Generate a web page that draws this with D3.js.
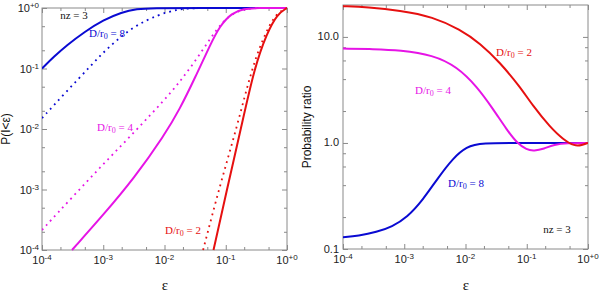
<!DOCTYPE html>
<html>
<head>
<meta charset="utf-8">
<script src="https://cdn.jsdelivr.net/npm/d3@7"></script>
<style>
  body { margin: 0; background: #fff; }
</style>
</head>
<body>
<div id="graph"></div>
<script>
// all curves as [log10(eps), log10(value)]

// left panel : P(I<eps), solid and dotted for each D/r0
const blueSolid = [[-4,-1],[-3.8,-0.8],[-3.6,-0.62],[-3.3,-0.39],[-3.0,-0.2],[-2.7,-0.07],[-2.45,-0.015],[-2.2,0],[-1.5,0],[0,0]];
const blueDotted = [[-4,-1.82],[-3.6,-1.38],[-3.2,-0.95],[-2.9,-0.63],[-2.5,-0.3],[-2.1,-0.11],[-1.8,-0.025],[-1.55,0],[-1,0],[0,0]];
const magentaSolid = [[-3.51,-4],[-3.0,-3.42],[-2.5,-2.82],[-2.0,-2.1],[-1.75,-1.67],[-1.5,-1.15],[-1.25,-0.6],[-1.1,-0.3],[-0.9,-0.08],[-0.7,-0.01],[-0.5,0],[0,0]];
const magentaDotted = [[-4,-3.67],[-3.5,-3.12],[-3,-2.58],[-2.5,-2.06],[-2,-1.52],[-1.75,-1.22],[-1.5,-0.88],[-1.25,-0.5],[-1.05,-0.22],[-0.85,-0.07],[-0.65,-0.01],[-0.45,0],[0,0]];
const redSolid = [[-1.2,-4],[-0.98,-3.0],[-0.75,-1.98],[-0.53,-0.98],[-0.33,-0.42],[-0.16,-0.1],[0,0]];
const redDotted = [[-1.37,-4],[-1.1,-2.95],[-0.82,-1.98],[-0.56,-0.94],[-0.34,-0.38],[-0.17,-0.08],[0,0]];

// right panel : probability ratio
const blueRatio = [[-4,-0.89],[-3.75,-0.875],[-3.45,-0.84],[-3.2,-0.79],[-2.95,-0.7],[-2.7,-0.54],[-2.45,-0.33],[-2.2,-0.14],[-1.98,-0.035],[-1.76,0],[-1,0],[0,0]];
const magentaRatio = [[-4,0.89],[-3.5,0.885],[-3.07,0.875],[-2.53,0.83],[-2.14,0.72],[-1.81,0.53],[-1.55,0.32],[-1.32,0.12],[-1.16,0],[-1.0,-0.065],[-0.88,-0.075],[-0.72,-0.055],[-0.55,-0.015],[-0.35,0],[0,0]];
const redRatio = [[-4,1.29],[-3.6,1.28],[-3.07,1.25],[-2.53,1.19],[-2.09,1.07],[-1.76,0.94],[-1.44,0.76],[-1.11,0.53],[-0.9,0.35],[-0.62,0.15],[-0.4,0.03],[-0.22,-0.03],[-0.1,-0.02],[0,0]];

// ticks
const xTickExp = [-4,-3,-2,-1,0];
const xTickSup = ["-4","-3","-2","-1","+0"];
const leftTickExp = [-4,-3,-2,-1,0];
const leftTickSup = ["-4","-3","-2","-1","+0"];
const rightTicks = [0.1,1.0,10.0];
const rightTickLabels = ["0.1","1.0","10.0"];

const blue = "#0a0ad2", magenta = "#e614e6", red = "#e61010", grey = "#8a8a8a";

let svg = d3.select("#graph")
  .append("svg")
  .attr("width", 600)
  .attr("height", 293)
  .style("font-family", "'Liberation Sans', Arial, sans-serif");

function minorTicks(lo, hi, mult) {
  let out = [];
  for (let e = Math.floor(Math.log10(lo)); e <= Math.ceil(Math.log10(hi)); e++) {
    mult.forEach(k => {
      let v = k * Math.pow(10, e);
      if (v > lo * 1.0001 && v < hi * 0.9999) out.push(v);
    });
  }
  return out;
}

function drawPanel(id, box, yDomain, yMinorMult) {
  let g = svg.append("g");
  let x = d3.scaleLog().domain([1e-4, 1]).range([box.x0, box.x1]);
  let y = d3.scaleLog().domain(yDomain).range([box.y1, box.y0]);

  g.append("clipPath").attr("id", "clip" + id)
    .append("rect")
    .attr("x", box.x0).attr("y", box.y0 - 1)
    .attr("width", box.x1 - box.x0).attr("height", box.y1 - box.y0 + 2);

  // ticks on all four sides, pointing inward
  let xMaj = xTickExp.map(e => Math.pow(10, e));
  let xMin = minorTicks(1e-4, 1, [2, 5]);
  let yMaj = d3.range(Math.ceil(Math.log10(yDomain[0])), Math.floor(Math.log10(yDomain[1])) + 1).map(e => Math.pow(10, e));
  let yMin = minorTicks(yDomain[0], yDomain[1], yMinorMult);

  let sides = [
    [d3.axisBottom(x), `translate(0,${box.y1})`, xMaj, xMin],
    [d3.axisTop(x), `translate(0,${box.y0})`, xMaj, xMin],
    [d3.axisLeft(y), `translate(${box.x0},0)`, yMaj, yMin],
    [d3.axisRight(y), `translate(${box.x1},0)`, yMaj, yMin]
  ];
  sides.forEach(s => {
    g.append("g").attr("transform", s[1])
      .call(s[0].tickValues(s[2]).tickSize(-5).tickFormat(""))
      .call(a => a.select(".domain").remove());
    g.append("g").attr("transform", s[1])
      .call(s[0].tickValues(s[3]).tickSize(-3).tickFormat(""))
      .call(a => a.select(".domain").remove());
  });
  g.selectAll(".tick line").attr("stroke", grey);

  g.append("rect")
    .attr("x", box.x0).attr("y", box.y0)
    .attr("width", box.x1 - box.x0).attr("height", box.y1 - box.y0)
    .attr("fill", "none").attr("stroke", grey).attr("stroke-width", 1);

  // x tick labels 10^n
  let xl = g.append("g").selectAll("text")
    .data(xTickExp)
    .join("text")
    .attr("x", d => x(Math.pow(10, d)))
    .attr("y", box.y1 + 14)
    .attr("text-anchor", "middle")
    .attr("font-size", 11)
    .attr("fill", "#222");
  xl.append("tspan").text("10");
  xl.append("tspan").attr("dy", -4).attr("font-size", 8).text((d, i) => xTickSup[i]);

  return { id: id, g: g, x: x, y: y };
}

function drawCurve(p, data, color, dotted) {
  let line = d3.line()
    .x(d => p.x(Math.pow(10, d[0])))
    .y(d => p.y(Math.pow(10, d[1])))
    .curve(d3.curveBasis);
  p.g.append("path")
    .datum(data)
    .attr("d", line)
    .attr("clip-path", "url(#clip" + p.id + ")")
    .attr("fill", "none")
    .attr("stroke", color)
    .attr("stroke-width", dotted ? 1.8 : 2)
    .attr("stroke-dasharray", dotted ? "1.8,4.2" : null);
}

function drawLabel(g, px, py, color, txt, sub, rest) {
  let t = g.append("text")
    .attr("x", px).attr("y", py)
    .attr("text-anchor", "middle")
    .attr("font-family", "'Liberation Serif', 'Times New Roman', serif")
    .attr("font-size", 11)
    .attr("fill", color);
  t.append("tspan").text(txt);
  if (sub) {
    t.append("tspan").attr("dy", 2).attr("font-size", 8).text(sub);
    t.append("tspan").attr("dy", -2).text(rest);
  }
}

// LEFT PANEL
let left = drawPanel("L", { x0: 42, x1: 287, y0: 8, y1: 250 }, [1e-4, 1], [2, 5]);
drawCurve(left, blueDotted, blue, true);
drawCurve(left, blueSolid, blue, false);
drawCurve(left, magentaDotted, magenta, true);
drawCurve(left, magentaSolid, magenta, false);
drawCurve(left, redDotted, red, true);
drawCurve(left, redSolid, red, false);

let yl = left.g.append("g").selectAll("text")
  .data(leftTickExp)
  .join("text")
  .attr("x", 39)
  .attr("y", d => left.y(Math.pow(10, d)) + 4)
  .attr("text-anchor", "end")
  .attr("font-size", 11)
  .attr("fill", "#222");
yl.append("tspan").text("10");
yl.append("tspan").attr("dy", -4).attr("font-size", 8).text((d, i) => leftTickSup[i]);

drawLabel(left.g, 74, 19, "#111", "nz = 3");
drawLabel(left.g, 107, 37, blue, "D/r", "0", " = 8");
drawLabel(left.g, 115, 131, magenta, "D/r", "0", " = 4");
drawLabel(left.g, 183, 234, red, "D/r", "0", " = 2");

svg.append("text")
  .attr("transform", "translate(10,129) rotate(-90)")
  .attr("text-anchor", "middle")
  .attr("font-size", 12)
  .attr("fill", "#111")
  .text("P(I<ε)");
svg.append("text")
  .attr("x", 165).attr("y", 290)
  .attr("text-anchor", "middle")
  .attr("font-family", "'Liberation Serif', serif")
  .attr("font-size", 15)
  .attr("fill", "#111")
  .text("ε");

// RIGHT PANEL
let right = drawPanel("R", { x0: 343, x1: 588, y0: 5, y1: 249 }, [0.1, 20], [2, 4, 6, 8]);
drawCurve(right, blueRatio, blue, false);
drawCurve(right, magentaRatio, magenta, false);
drawCurve(right, redRatio, red, false);

right.g.append("g").selectAll("text")
  .data(rightTicks)
  .join("text")
  .attr("x", 339)
  .attr("y", d => right.y(d) + 3.5)
  .attr("text-anchor", "end")
  .attr("font-size", 11)
  .attr("fill", "#222")
  .text((d, i) => rightTickLabels[i]);

drawLabel(right.g, 514, 56, red, "D/r", "0", " = 2");
drawLabel(right.g, 433, 94, magenta, "D/r", "0", " = 4");
drawLabel(right.g, 466, 187, blue, "D/r", "0", " = 8");
drawLabel(right.g, 557, 233, "#111", "nz = 3");

svg.append("text")
  .attr("transform", "translate(311,127) rotate(-90)")
  .attr("text-anchor", "middle")
  .attr("font-size", 12)
  .attr("fill", "#111")
  .text("Probability ratio");
svg.append("text")
  .attr("x", 466).attr("y", 290)
  .attr("text-anchor", "middle")
  .attr("font-family", "'Liberation Serif', serif")
  .attr("font-size", 15)
  .attr("fill", "#111")
  .text("ε");
</script>
</body>
</html>
